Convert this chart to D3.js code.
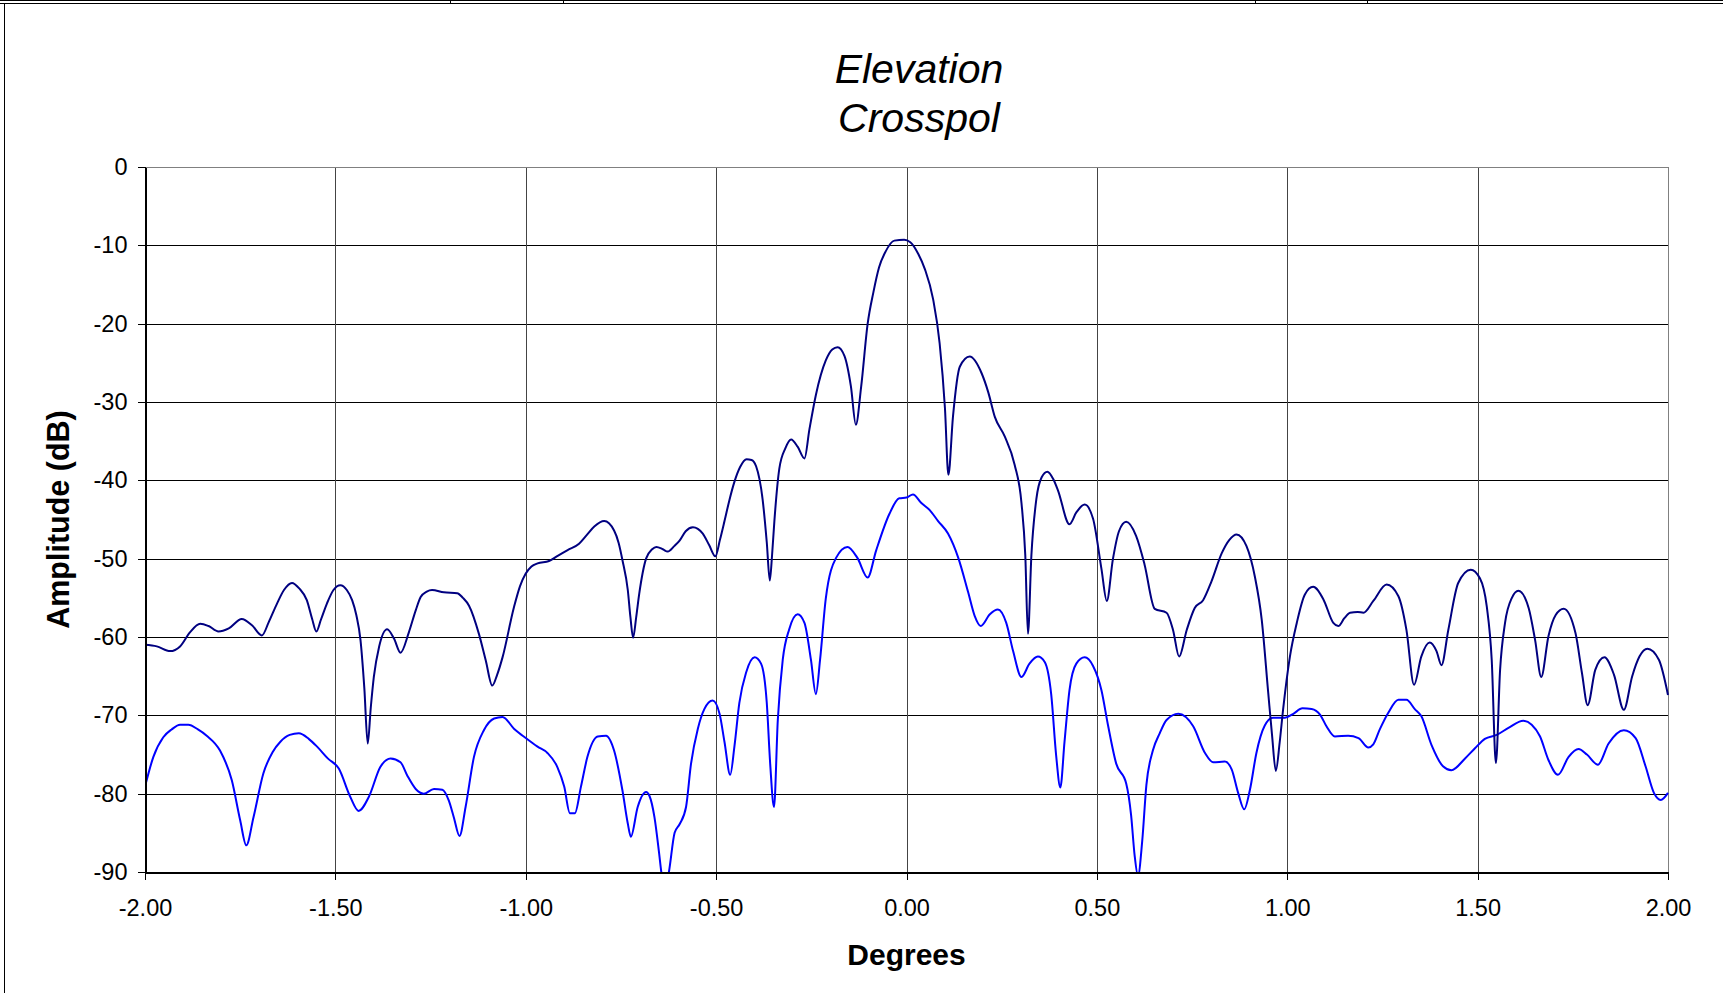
<!DOCTYPE html>
<html>
<head>
<meta charset="utf-8">
<script src="https://cdnjs.cloudflare.com/ajax/libs/d3/7.8.5/d3.min.js"></script>
<style>
  body { margin: 0; background: #fff; }
  svg { display: block; font-family: Arial, "Liberation Sans", sans-serif; }
  .grid line { stroke: #000; shape-rendering: crispEdges; }
  .grid path { display: none; }
  .axis path, .axis line { stroke: #000; shape-rendering: crispEdges; }
  .axis text { font-size: 23.5px; fill: #000; }
</style>
</head>
<body>
<div id="chart"></div>
<script>

// upper trace (navy)
var degA = [-2.000,-1.969,-1.934,-1.908,-1.882,-1.855,-1.833,-1.807,-1.780,-1.746,-1.719,-1.693,-1.675,-1.653,-1.635,-1.614,-1.595,-1.575,-1.561,-1.550,-1.538,-1.522,-1.505,-1.487,-1.470,-1.456,-1.445,-1.434,-1.424,-1.415,-1.407,-1.399,-1.385,-1.364,-1.346,-1.329,-1.307,-1.289,-1.276,-1.260,-1.246,-1.215,-1.180,-1.165,-1.149,-1.123,-1.105,-1.088,-1.075,-1.061,-1.031,-1.015,-1.000,-0.985,-0.969,-0.939,-0.915,-0.890,-0.860,-0.840,-0.820,-0.794,-0.768,-0.756,-0.746,-0.732,-0.725,-0.718,-0.710,-0.702,-0.684,-0.668,-0.657,-0.640,-0.627,-0.610,-0.596,-0.580,-0.561,-0.548,-0.535,-0.518,-0.502,-0.490,-0.478,-0.465,-0.452,-0.437,-0.420,-0.407,-0.395,-0.378,-0.367,-0.359,-0.353,-0.347,-0.334,-0.318,-0.303,-0.286,-0.268,-0.255,-0.238,-0.212,-0.195,-0.181,-0.163,-0.146,-0.133,-0.119,-0.102,-0.087,-0.072,-0.055,-0.032,-0.006,0.010,0.031,0.048,0.070,0.087,0.101,0.110,0.122,0.140,0.166,0.197,0.215,0.232,0.258,0.284,0.302,0.312,0.319,0.328,0.341,0.355,0.370,0.385,0.398,0.428,0.446,0.468,0.490,0.512,0.526,0.542,0.558,0.577,0.603,0.625,0.652,0.683,0.700,0.716,0.736,0.757,0.779,0.801,0.828,0.848,0.867,0.893,0.915,0.933,0.950,0.960,0.970,0.980,0.989,1.007,1.025,1.046,1.068,1.095,1.121,1.134,1.150,1.165,1.185,1.200,1.226,1.261,1.292,1.313,1.333,1.352,1.374,1.392,1.405,1.423,1.449,1.482,1.506,1.524,1.537,1.548,1.559,1.572,1.590,1.607,1.634,1.651,1.667,1.686,1.705,1.726,1.757,1.774,1.789,1.809,1.833,1.858,1.884,1.906,1.925,1.946,1.976,2.000];
var ampA = [-61.0,-61.2,-61.8,-61.2,-59.4,-58.3,-58.6,-59.3,-58.9,-57.7,-58.5,-59.8,-58.1,-55.7,-54.0,-53.1,-53.8,-55.3,-57.7,-59.3,-57.8,-55.7,-54.0,-53.4,-54.0,-55.3,-57.2,-60.4,-66.5,-73.6,-69.0,-65.1,-61.2,-59.0,-60.2,-62.0,-59.4,-56.6,-54.9,-54.2,-54.0,-54.3,-54.4,-55.0,-56.0,-59.6,-63.0,-66.2,-64.8,-62.6,-56.2,-53.5,-51.9,-51.0,-50.6,-50.3,-49.6,-48.9,-48.1,-47.0,-45.9,-45.2,-46.4,-48.0,-50.2,-54.0,-57.5,-60.1,-57.5,-54.5,-50.0,-48.8,-48.5,-48.8,-49.1,-48.4,-47.7,-46.5,-46.0,-46.2,-46.8,-48.3,-49.7,-47.6,-45.2,-42.5,-40.2,-38.3,-37.3,-37.4,-38.2,-42.4,-47.9,-52.8,-49.5,-45.2,-38.5,-35.9,-34.8,-35.7,-37.2,-33.5,-29.1,-24.7,-23.3,-23.0,-24.1,-28.0,-32.9,-28.0,-20.0,-16.0,-12.8,-10.8,-9.4,-9.3,-9.6,-11.1,-13.0,-16.9,-22.5,-30.8,-39.3,-31.9,-25.5,-24.2,-26.3,-28.8,-31.9,-34.4,-38.0,-42.9,-49.6,-59.6,-49.6,-42.4,-39.6,-38.9,-39.8,-41.3,-45.6,-44.1,-43.1,-44.9,-51.3,-55.4,-50.1,-46.5,-45.3,-47.1,-50.7,-56.4,-56.9,-59.1,-62.5,-59.1,-56.3,-55.3,-52.9,-49.3,-47.6,-46.9,-48.4,-52.3,-57.8,-67.1,-72.5,-77.1,-73.5,-69.3,-62.5,-58.2,-54.6,-53.6,-55.2,-58.2,-58.6,-57.6,-56.9,-56.8,-56.9,-55.4,-53.3,-54.8,-59.1,-66.1,-62.5,-60.7,-61.8,-63.6,-59.1,-53.1,-51.4,-52.5,-56.1,-62.9,-76.1,-64.2,-58.2,-55.0,-54.1,-56.3,-60.4,-65.1,-59.9,-57.2,-56.4,-59.5,-64.6,-68.7,-64.2,-62.6,-64.8,-69.3,-65.0,-62.5,-61.5,-62.9,-67.4];

// lower trace (blue)
var degB = [-2.000,-1.978,-1.952,-1.930,-1.908,-1.886,-1.861,-1.838,-1.803,-1.772,-1.750,-1.734,-1.715,-1.689,-1.665,-1.645,-1.620,-1.596,-1.570,-1.548,-1.520,-1.491,-1.461,-1.439,-1.412,-1.382,-1.355,-1.329,-1.311,-1.289,-1.268,-1.241,-1.219,-1.202,-1.189,-1.174,-1.158,-1.136,-1.110,-1.083,-1.061,-1.031,-1.000,-0.969,-0.943,-0.917,-0.899,-0.884,-0.871,-0.855,-0.838,-0.811,-0.789,-0.768,-0.746,-0.732,-0.724,-0.706,-0.684,-0.675,-0.662,-0.650,-0.644,-0.635,-0.624,-0.609,-0.596,-0.579,-0.566,-0.548,-0.531,-0.509,-0.491,-0.478,-0.463,-0.452,-0.439,-0.421,-0.399,-0.382,-0.367,-0.358,-0.348,-0.338,-0.325,-0.308,-0.286,-0.268,-0.251,-0.238,-0.227,-0.212,-0.185,-0.155,-0.129,-0.102,-0.080,-0.045,-0.019,0.000,0.017,0.039,0.061,0.083,0.109,0.136,0.162,0.179,0.195,0.219,0.240,0.262,0.280,0.302,0.323,0.345,0.363,0.380,0.393,0.404,0.415,0.428,0.446,0.468,0.490,0.512,0.529,0.551,0.577,0.590,0.599,0.608,0.619,0.630,0.647,0.665,0.683,0.714,0.753,0.784,0.806,0.836,0.854,0.871,0.887,0.902,0.919,0.941,0.963,0.994,1.016,1.040,1.064,1.086,1.103,1.125,1.160,1.187,1.213,1.226,1.243,1.265,1.292,1.313,1.335,1.352,1.379,1.409,1.431,1.467,1.493,1.519,1.550,1.581,1.620,1.642,1.664,1.686,1.711,1.739,1.765,1.787,1.816,1.844,1.884,1.915,1.941,1.963,1.981,2.000];
var ampB = [-79.1,-75.3,-72.8,-71.8,-71.2,-71.2,-71.8,-72.6,-74.5,-78.3,-83.4,-86.6,-83.0,-77.4,-74.7,-73.4,-72.5,-72.3,-73.0,-74.0,-75.5,-76.8,-80.4,-82.2,-80.4,-76.6,-75.5,-76.0,-77.7,-79.4,-80.0,-79.4,-79.5,-80.9,-83.0,-85.4,-81.7,-75.3,-71.9,-70.4,-70.2,-71.7,-72.9,-74.0,-74.8,-76.6,-79.1,-82.5,-82.5,-79.1,-75.3,-72.7,-72.6,-74.5,-79.6,-83.8,-85.5,-81.7,-79.8,-80.3,-83.0,-87.5,-90.0,-92.5,-90.0,-85.0,-83.9,-81.7,-76.2,-71.7,-69.2,-68.1,-69.8,-73.4,-77.6,-74.0,-68.4,-64.5,-62.6,-63.4,-68.4,-76.2,-81.7,-70.6,-62.9,-59.0,-57.1,-58.2,-62.9,-67.3,-62.9,-55.1,-49.9,-48.5,-49.9,-52.4,-49.0,-44.3,-42.3,-42.2,-41.8,-42.9,-43.8,-45.2,-46.8,-49.9,-54.3,-57.3,-58.6,-57.1,-56.5,-58.2,-61.8,-65.1,-63.4,-62.5,-63.2,-67.3,-75.1,-79.2,-73.4,-66.8,-63.4,-62.6,-63.7,-66.8,-71.2,-76.2,-78.7,-82.8,-87.8,-90.5,-86.1,-78.9,-74.5,-72.3,-70.6,-69.8,-71.4,-74.8,-76.0,-75.9,-76.9,-79.9,-82.0,-79.5,-74.8,-71.3,-70.3,-70.3,-69.8,-69.1,-69.2,-69.9,-71.4,-72.7,-72.6,-72.9,-74.1,-73.7,-71.8,-69.7,-68.0,-68.0,-69.2,-70.1,-73.8,-76.5,-77.0,-75.5,-74.2,-73.0,-72.5,-71.6,-70.7,-71.2,-72.7,-75.7,-77.6,-75.3,-74.3,-75.0,-76.3,-73.6,-71.9,-72.9,-76.5,-79.9,-80.8,-79.9];

var xTicks = [-2, -1.5, -1, -0.5, 0, 0.5, 1, 1.5, 2];
var yTicks = [0, -10, -20, -30, -40, -50, -60, -70, -80, -90];
var titleLines = ["Elevation", "Crosspol"];

var width = 1723;
var height = 993;
var plot = {left: 145, right: 1668, top: 167, bottom: 872};

var svg = d3.select("#chart")
  .append("svg")
    .attr("width", width)
    .attr("height", height);

// sheet / chart frame bits
svg.append("line").attr("x1", 0).attr("x2", width).attr("y1", 0.5).attr("y2", 0.5)
  .attr("stroke", "#000").attr("stroke-width", 1);
svg.append("line").attr("x1", 0).attr("x2", width).attr("y1", 3.5).attr("y2", 3.5)
  .attr("stroke", "#000").attr("stroke-width", 1);
[450, 563, 1255, 1367].forEach(function(px) {
  svg.append("line").attr("x1", px + 0.5).attr("x2", px + 0.5).attr("y1", 0).attr("y2", 4)
    .attr("stroke", "#000");
});
svg.append("line").attr("x1", 4.5).attr("x2", 4.5).attr("y1", 3).attr("y2", height)
  .attr("stroke", "#000");

var x = d3.scaleLinear().domain([-2, 2]).range([plot.left, plot.right]);
var y = d3.scaleLinear().domain([-90, 0]).range([plot.bottom, plot.top]);

// gridlines
svg.append("g")
  .attr("class", "grid")
  .attr("transform", "translate(" + plot.left + ",0)")
  .call(d3.axisLeft(y).tickValues(yTicks).tickSize(-(plot.right - plot.left)).tickFormat(""));

svg.append("g")
  .attr("class", "grid")
  .attr("transform", "translate(0," + plot.bottom + ")")
  .call(d3.axisBottom(x).tickValues(xTicks).tickSize(-(plot.bottom - plot.top)).tickFormat(""))
  .selectAll("line").style("stroke", "#444");

// plot area border
svg.append("rect")
  .attr("x", plot.left + 0.5)
  .attr("y", plot.top + 0.5)
  .attr("width", plot.right - plot.left)
  .attr("height", plot.bottom - plot.top)
  .attr("fill", "none")
  .attr("stroke", "#808080");

svg.append("clipPath")
    .attr("id", "clip")
  .append("rect")
    .attr("x", plot.left)
    .attr("y", plot.top)
    .attr("width", plot.right - plot.left + 1)
    .attr("height", plot.bottom - plot.top + 1);

var line = d3.line()
  .curve(d3.curveMonotoneX)
  .x(function(d) { return x(d[0]); })
  .y(function(d) { return y(d[1]); });

svg.append("path")
  .datum(d3.zip(degB, ampB))
  .attr("clip-path", "url(#clip)")
  .attr("fill", "none")
  .attr("stroke", "#0000ff")
  .attr("stroke-width", 2)
  .attr("d", line);

svg.append("path")
  .datum(d3.zip(degA, ampA))
  .attr("clip-path", "url(#clip)")
  .attr("fill", "none")
  .attr("stroke", "#000080")
  .attr("stroke-width", 2)
  .attr("d", line);

// axes
svg.append("g")
  .attr("class", "axis")
  .attr("transform", "translate(" + (plot.left + 0.5) + ",0)")
  .call(d3.axisLeft(y)
    .tickValues(yTicks)
    .tickSize(8)
    .tickPadding(10)
    .tickSizeOuter(0)
    .tickFormat(function(d) { return String(d); }))
  .select(".domain").attr("stroke-width", 1.5);

svg.append("g")
  .attr("class", "axis")
  .attr("transform", "translate(0," + (plot.bottom + 0.5) + ")")
  .call(d3.axisBottom(x)
    .tickValues(xTicks)
    .tickSize(7)
    .tickPadding(20)
    .tickSizeOuter(0)
    .tickFormat(function(d) { return d.toFixed(2); }))
  .select(".domain").attr("stroke-width", 1.5);

// axis titles
svg.append("text")
  .attr("x", (plot.left + plot.right) / 2)
  .attr("y", 965)
  .attr("text-anchor", "middle")
  .style("font-size", "30px")
  .style("font-weight", "bold")
  .text("Degrees");

svg.append("text")
  .attr("transform", "translate(69," + ((plot.top + plot.bottom) / 2) + ") rotate(-90)")
  .attr("text-anchor", "middle")
  .style("font-size", "30.5px")
  .style("font-weight", "bold")
  .text("Amplitude (dB)");

// chart title
svg.selectAll(".title")
  .data(titleLines)
  .enter().append("text")
    .attr("class", "title")
    .attr("x", 919)
    .attr("y", function(d, i) { return 83 + i * 48.5; })
    .attr("text-anchor", "middle")
    .style("font-size", "41px")
    .style("font-style", "italic")
    .text(function(d) { return d; });

</script>
</body>
</html>
